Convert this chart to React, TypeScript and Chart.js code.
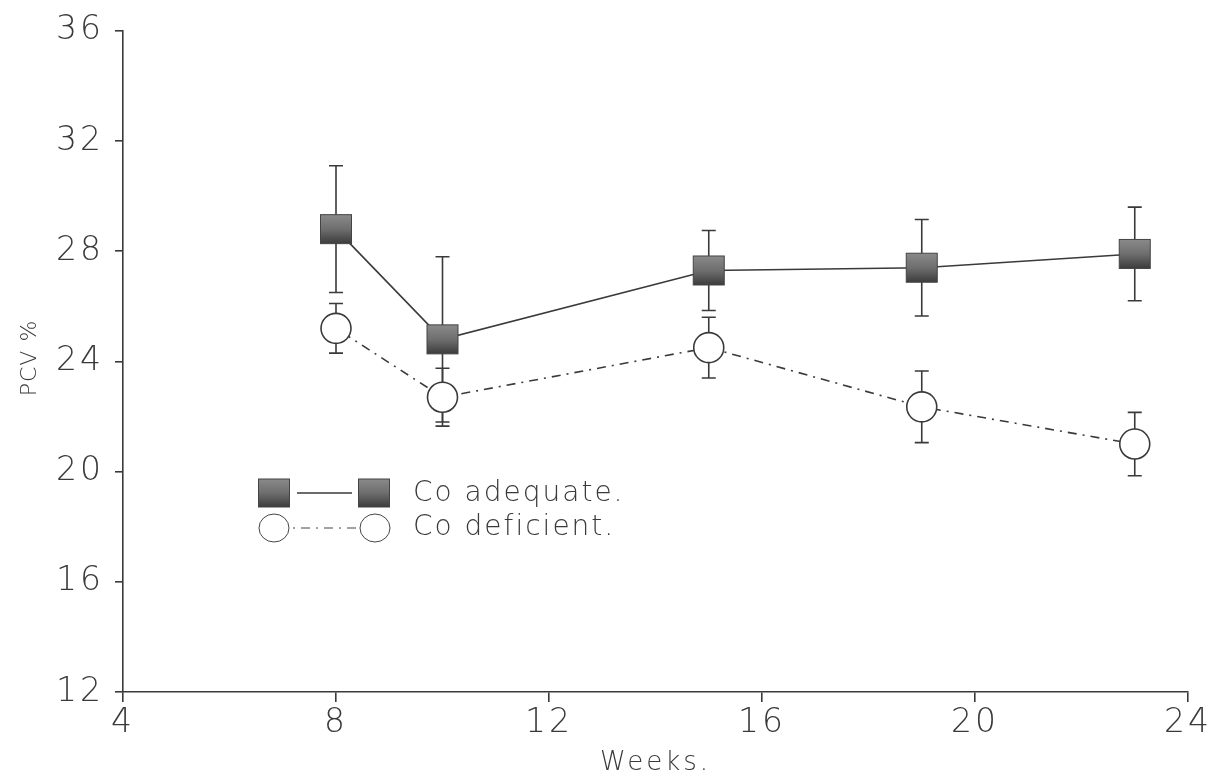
import React, { useEffect, useRef } from "react";
import { Chart, registerables } from "chart.js";

Chart.register(...registerables);

const weeks = [8, 10, 15, 19, 23];
const adequateMean = [28.8, 24.8, 27.3, 27.4, 27.9];
const adequateSD = [2.3, 3.0, 1.45, 1.75, 1.7];
const deficientMean = [25.2, 22.7, 24.5, 22.35, 21.0];
const deficientSD = [0.9, 1.05, 1.1, 1.3, 1.15];

const xTicks = [4, 8, 12, 16, 20, 24];
const yTicks = [12, 16, 20, 24, 28, 32, 36];
const seriesNames = ["Co adequate.", "Co deficient."];
const xTitle = "Weeks.";
const yTitle = "PCV %";

const INK = "#3a3a3a";
const FONT = "'DejaVu Sans', sans-serif";
const DEF_DASH = [2, 6, 9, 6];

function drawSquare(ctx: CanvasRenderingContext2D, x: number, y: number, w: number, h: number) {
  const g = ctx.createLinearGradient(0, y - h / 2, 0, y + h / 2);
  g.addColorStop(0, "#8a8a8a");
  g.addColorStop(0.5, "#6e6e6e");
  g.addColorStop(1, "#3c3c3c");
  ctx.fillStyle = g;
  ctx.fillRect(x - w / 2, y - h / 2, w, h);
  ctx.strokeStyle = "#444";
  ctx.lineWidth = 1;
  ctx.strokeRect(x - w / 2, y - h / 2, w, h);
}

const errorBarPlugin = {
  id: "errorBars",
  beforeDraw(chart: any) {
    (chart.ctx as any).letterSpacing = "3px";
  },
  beforeDatasetsDraw(chart: any) {
    const { ctx, scales } = chart;
    const xs = scales.x;
    const ys = scales.y;
    const sets = [
      { m: adequateMean, s: adequateSD },
      { m: deficientMean, s: deficientSD },
    ];
    ctx.save();
    ctx.strokeStyle = INK;
    ctx.lineWidth = 1.6;
    sets.forEach(({ m, s }) => {
      weeks.forEach((w, i) => {
        const px = xs.getPixelForValue(w);
        const top = ys.getPixelForValue(m[i] + s[i]);
        const bot = ys.getPixelForValue(m[i] - s[i]);
        ctx.beginPath();
        ctx.moveTo(px, top);
        ctx.lineTo(px, bot);
        ctx.moveTo(px - 7, top);
        ctx.lineTo(px + 7, top);
        ctx.moveTo(px - 7, bot);
        ctx.lineTo(px + 7, bot);
        ctx.stroke();
      });
    });
    ctx.restore();
  },
  afterDatasetsDraw(chart: any) {
    const { ctx, scales } = chart;
    const xs = scales.x;
    const ys = scales.y;
    ctx.save();
    weeks.forEach((w, i) => {
      drawSquare(ctx, xs.getPixelForValue(w), ys.getPixelForValue(adequateMean[i]), 31, 29);
    });
    ctx.restore();
  },
  afterDraw(chart: any) {
    const { ctx } = chart;
    ctx.save();
    // legend row 1
    drawSquare(ctx, 274, 493, 31, 28);
    ctx.strokeStyle = INK;
    ctx.lineWidth = 1.6;
    ctx.beginPath();
    ctx.moveTo(297, 493);
    ctx.lineTo(352, 493);
    ctx.stroke();
    drawSquare(ctx, 374, 493, 31, 28);
    // legend row 2
    ctx.beginPath();
    ctx.ellipse(274, 528, 15, 14, 0, 0, Math.PI * 2);
    ctx.stroke();
    ctx.setLineDash(DEF_DASH);
    ctx.beginPath();
    ctx.moveTo(293, 528);
    ctx.lineTo(356, 528);
    ctx.stroke();
    ctx.setLineDash([]);
    ctx.beginPath();
    ctx.ellipse(375, 528, 15, 14, 0, 0, Math.PI * 2);
    ctx.stroke();
    ctx.fillStyle = INK;
    (ctx as any).letterSpacing = "2px";
    ctx.font = `200 28px ${FONT}`;
    ctx.textBaseline = "middle";
    ctx.textAlign = "left";
    ctx.fillText(seriesNames[0], 413, 494);
    ctx.fillText(seriesNames[1], 413, 528);
    // y title
    (ctx as any).letterSpacing = "1px";
    ctx.font = `200 22px ${FONT}`;
    ctx.translate(30, 358);
    ctx.rotate(-Math.PI / 2);
    ctx.textAlign = "center";
    ctx.fillText(yTitle, 0, 0);
    ctx.restore();
  },
};

export default function App() {
  const ref = useRef<HTMLCanvasElement | null>(null);
  useEffect(() => {
    if (!ref.current) return;
    const chart = new Chart(ref.current, {
      type: "line",
      data: {
        datasets: [
          {
            label: seriesNames[0],
            data: weeks.map((w, i) => ({ x: w, y: adequateMean[i] })),
            borderColor: INK,
            borderWidth: 1.6,
            pointRadius: 0,
            fill: false,
            tension: 0,
          },
          {
            label: seriesNames[1],
            data: weeks.map((w, i) => ({ x: w, y: deficientMean[i] })),
            borderColor: INK,
            borderWidth: 1.6,
            borderDash: DEF_DASH,
            pointStyle: "circle",
            pointRadius: 15,
            pointBorderWidth: 1.6,
            pointBorderColor: INK,
            pointBackgroundColor: "#ffffff",
            fill: false,
            tension: 0,
          },
        ],
      },
      plugins: [errorBarPlugin],
      options: {
        animation: false,
        responsive: false,
        events: [],
        layout: { padding: { top: 30, right: 34, left: 0, bottom: 0 } },
        plugins: { legend: { display: false }, tooltip: { enabled: false } },
        scales: {
          x: {
            type: "linear",
            min: 4,
            max: 24,
            afterBuildTicks: (s: any) => {
              s.ticks = xTicks.map((v) => ({ value: v }));
            },
            afterFit: (s: any) => {
              s.height = 87;
            },
            border: { color: INK, width: 1.6 },
            grid: { drawOnChartArea: false, drawTicks: true, tickLength: 10, color: INK, lineWidth: 1.6 },
            ticks: {
              color: INK,
              padding: 2,
              maxRotation: 0,
              font: { family: FONT, size: 33, weight: "200" as any },
            },
            title: {
              display: true,
              text: xTitle,
              color: INK,
              padding: { top: 0, bottom: 0 },
              font: { family: FONT, size: 26, weight: "200" as any },
            },
          },
          y: {
            type: "linear",
            min: 12,
            max: 36,
            afterBuildTicks: (s: any) => {
              s.ticks = yTicks.map((v) => ({ value: v }));
            },
            afterFit: (s: any) => {
              s.width = 123;
            },
            border: { color: INK, width: 1.6 },
            grid: { drawOnChartArea: false, drawTicks: true, tickLength: 8, color: INK, lineWidth: 1.6 },
            ticks: {
              color: INK,
              padding: 11,
              font: { family: FONT, size: 33, weight: "200" as any },
            },
            title: { display: false },
          },
        },
      },
    });
    return () => chart.destroy();
  }, []);
  return (
    <div style={{ position: "fixed", left: 0, top: 0, width: 1222, height: 779, background: "#fff" }}>
      <canvas ref={ref} width={1222} height={779} style={{ display: "block" }} />
    </div>
  );
}
